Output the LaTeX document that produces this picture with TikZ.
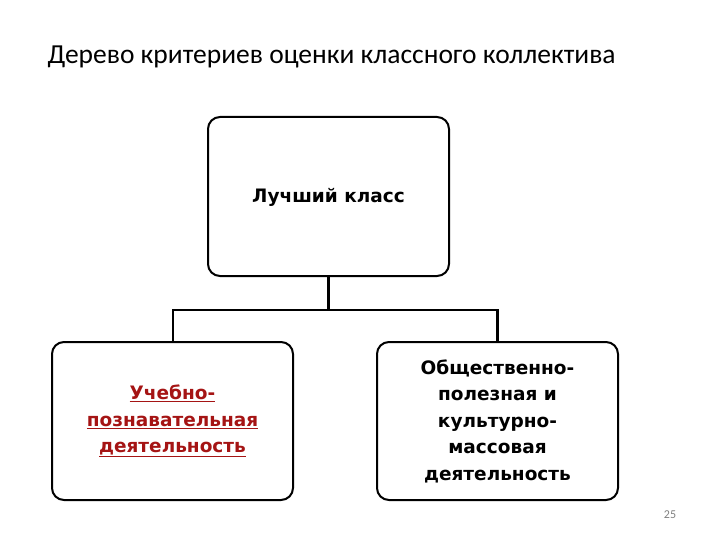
\documentclass[tikz,border=0pt]{standalone}
\usepackage{fontspec}
\setmainfont{Carlito}
\newfontfamily\boxfont{DejaVu Sans}
\definecolor{darkred}{RGB}{165,20,20}
\begin{document}
\begin{tikzpicture}[x=1pt,y=-1pt,
  box/.style={draw=black,line width=2pt,rounded corners=12pt,fill=white,inner sep=0pt},
  lbl/.style={align=center,font=\boxfont\bfseries\fontsize{18.5}{26.5}\selectfont},
  conn/.style={draw=black,line width=2.5pt}]
\useasboundingbox (0,0) rectangle (720,540);
\fill[white] (0,0) rectangle (720,540);
\node[anchor=west,font=\fontsize{27.5}{30}\selectfont] (title) at (44,57) {Дерево критериев оценки классного коллектива};
\draw[box] (208,117) rectangle (449,276);
\node[lbl] (top) at (328.5,197) {Лучший класс};
\draw[box] (52,342) rectangle (293,500);
\node[lbl,text=darkred] (left) at (172.5,421) {\underline{Учебно-}\\\underline{познавательная}\\\underline{деятельность}};
\draw[box] (377,342) rectangle (618,500);
\node[lbl] (right) at (497.5,421) {Общественно-\\полезная и\\культурно-\\массовая\\деятельность};
\coordinate (t) at (328.5,276);
\coordinate (j) at (328.5,310);
\coordinate (lj) at (173,310);
\coordinate (rj) at (497.5,310);
\coordinate (lb) at (173,342);
\coordinate (rb) at (497.5,342);
\draw[conn] (t) -- (j);
\draw[conn] (lb) -- (lj) -- (rj) -- (rb);
\node[text=gray,font=\fontsize{12}{14}\selectfont] (num) at (670,515) {25};
\end{tikzpicture}
\end{document}
